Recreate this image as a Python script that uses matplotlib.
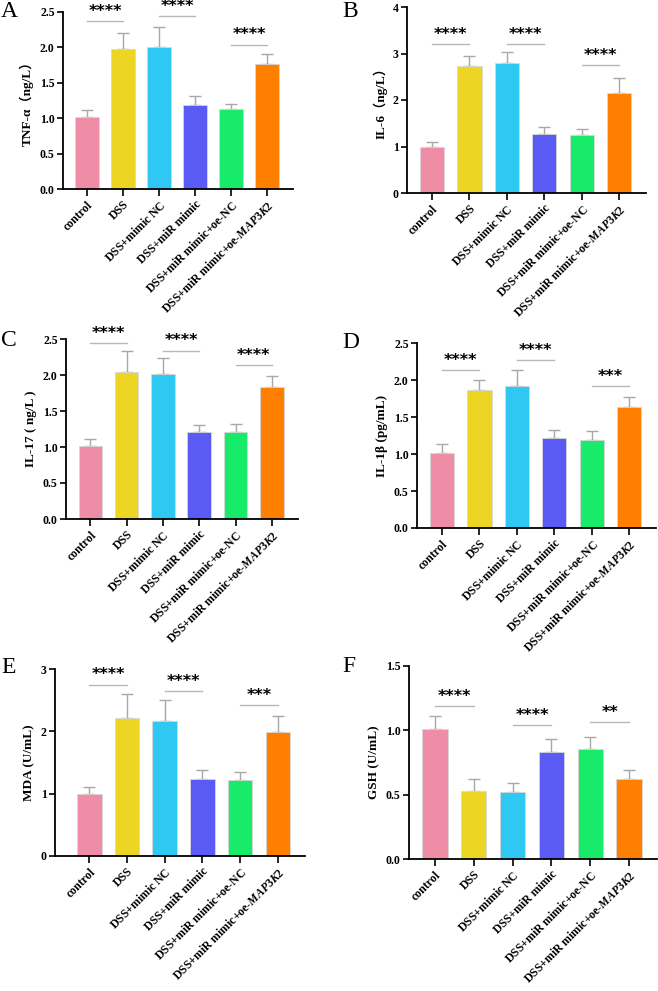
import numpy as np
import matplotlib
matplotlib.use("Agg")
import matplotlib.pyplot as plt

plt.rcParams['font.family'] = ['Liberation Serif', 'Noto Sans CJK SC']
plt.rcParams['font.weight'] = 'bold'
plt.rcParams['mathtext.fontset'] = 'custom'
plt.rcParams['mathtext.it'] = 'Liberation Serif:italic'
plt.rcParams['mathtext.rm'] = 'Liberation Serif'

groups = ['control', 'DSS', r'DSS+mimic $\mathrm{NC}$', 'DSS+miR mimic',
          r'DSS+miR mimic+oe-$\mathrm{NC}$', r'DSS+miR mimic+oe-$\it{MAP3K2}$']
colors = ['#EF8DA6', '#EDD523', '#2FC8F2', '#5A5AF5', '#17EB69', '#FF8000']

# mean values and upper error (SD)
tnf_mean = [1.01, 1.98, 2.01, 1.19, 1.13, 1.77]
tnf_err = [0.10, 0.23, 0.28, 0.12, 0.065, 0.13]
il6_mean = [0.99, 2.74, 2.80, 1.27, 1.25, 2.16]
il6_err = [0.10, 0.21, 0.23, 0.14, 0.12, 0.31]
il17_mean = [1.01, 2.04, 2.01, 1.21, 1.21, 1.83]
il17_err = [0.10, 0.29, 0.22, 0.10, 0.11, 0.16]
il1b_mean = [1.01, 1.87, 1.92, 1.22, 1.19, 1.64]
il1b_err = [0.12, 0.13, 0.22, 0.10, 0.12, 0.13]
mda_mean = [1.00, 2.22, 2.16, 1.24, 1.22, 1.99]
mda_err = [0.10, 0.38, 0.34, 0.14, 0.12, 0.25]
gsh_mean = [1.01, 0.53, 0.52, 0.83, 0.855, 0.62]
gsh_err = [0.105, 0.095, 0.07, 0.10, 0.09, 0.07]

# significance brackets: (bar i, bar j, height, label)
tnf_sig = [(0, 1, 2.37, '****'), (2, 3, 2.44, '****'), (4, 5, 2.04, '****')]
il6_sig = [(0, 1, 3.20, '****'), (2, 3, 3.21, '****'), (4, 5, 2.75, '****')]
il17_sig = [(0, 1, 2.44, '****'), (2, 3, 2.34, '****'), (4, 5, 2.14, '****')]
il1b_sig = [(0, 1, 2.13, '****'), (2, 3, 2.27, '****'), (4, 5, 1.92, '***')]
mda_sig = [(0, 1, 2.75, '****'), (2, 3, 2.64, '****'), (4, 5, 2.42, '***')]
gsh_sig = [(0, 1, 1.19, '****'), (2, 3, 1.04, '****'), (4, 5, 1.065, '**')]

W, H = 658, 991
fig = plt.figure(figsize=(W / 100, H / 100), dpi=100)


def add_ax(l, r, t, b):
    return fig.add_axes([l / W, 1 - b / H, (r - l) / W, (b - t) / H])


def panel(ax, mean, err, sig, ylabel, ymax, yticks, fmt, letter, lx, ly, xleft=-0.67):
    x = np.arange(len(mean))
    ax.bar(x, mean, width=0.65, color=colors, edgecolor='#d8d8d8', linewidth=0.6, zorder=2)
    ax.errorbar(x, mean, yerr=[np.zeros(len(err)), err], fmt='none',
                ecolor='#a8a8a8', elinewidth=1.0, capsize=4.3, capthick=1.0, zorder=1)
    for i, j, h, lab in sig:
        ax.plot([i, j], [h, h], color='#b8b8b8', lw=1.0, clip_on=False)
        ax.annotate(lab, ((i + j) / 2, h), xytext=(0, 7), textcoords='offset points',
                    ha='center', va='center', fontsize=11.5, fontweight='bold',
                    family='DejaVu Sans', annotation_clip=False)
    ax.set_xlim(xleft, 5.72)
    ax.set_ylim(0, ymax)
    ax.set_yticks(yticks)
    ax.set_yticklabels([fmt.format(v) for v in yticks], fontsize=8.5, fontweight='bold')
    ax.set_xticks(x)
    ax.set_xticklabels(groups, rotation=45, ha='right', rotation_mode='anchor',
                       fontsize=8.5, fontweight='bold')
    ax.set_ylabel(ylabel, fontsize=9.5, fontweight='bold', labelpad=4)
    for s in ['top', 'right']:
        ax.spines[s].set_visible(False)
    for s in ['left', 'bottom']:
        ax.spines[s].set_linewidth(1.3)
    ax.tick_params(axis='x', length=5, width=1.2, pad=2)
    ax.tick_params(axis='y', length=4, width=1.2, pad=2)
    fig.text(lx / W, 1 - ly / H, letter, fontsize=17, fontweight='normal', va='top', ha='left')


axA = add_ax(63, 293, 12, 189)
panel(axA, tnf_mean, tnf_err, tnf_sig, 'TNF-α（ng/L）', 2.5, [0, 0.5, 1.0, 1.5, 2.0, 2.5], '{:.1f}', 'A', 1, 1)
axB = add_ax(407, 646, 7, 193)
panel(axB, il6_mean, il6_err, il6_sig, 'IL-6（ng/L）', 4, [0, 1, 2, 3, 4], '{:.0f}', 'B', 342, 1)
axC = add_ax(66, 298, 339, 519)
panel(axC, il17_mean, il17_err, il17_sig, 'IL-17 ( ng/L )', 2.5, [0, 0.5, 1.0, 1.5, 2.0, 2.5], '{:.1f}', 'C', 1, 330)
axD = add_ax(417, 656, 343, 528)
panel(axD, il1b_mean, il1b_err, il1b_sig, 'IL-1β (pg/mL)', 2.5, [0, 0.5, 1.0, 1.5, 2.0, 2.5], '{:.1f}', 'D', 342, 332)
axE = add_ax(55, 305, 669, 856)
panel(axE, mda_mean, mda_err, mda_sig, 'MDA (U/mL)', 3, [0, 1, 2, 3], '{:.0f}', 'E', 1, 657, xleft=-0.91)
axF = add_ax(409, 657, 666, 859)
panel(axF, gsh_mean, gsh_err, gsh_sig, 'GSH (U/mL)', 1.5, [0, 0.5, 1.0, 1.5], '{:.1f}', 'F', 342, 656)

fig.savefig('out.png', dpi=100)
